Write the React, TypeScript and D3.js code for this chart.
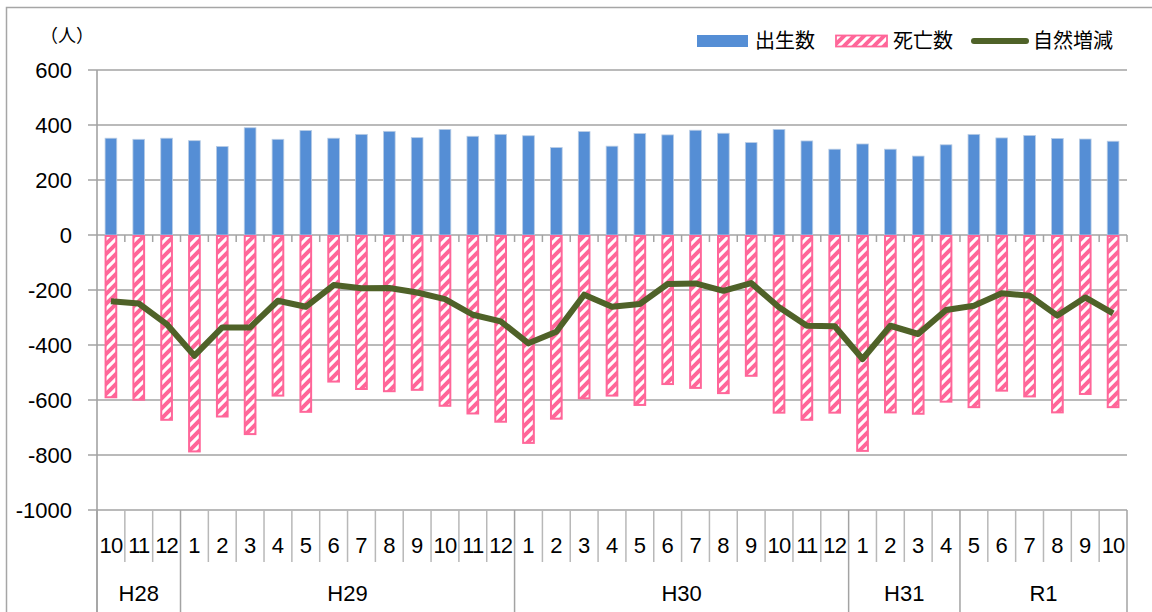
import React from "react";
import * as d3 from "d3";

// month labels, H28/10 .. R1/10
const months = [
  "10", "11", "12",
  "1", "2", "3", "4", "5", "6", "7", "8", "9", "10", "11", "12",
  "1", "2", "3", "4", "5", "6", "7", "8", "9", "10", "11", "12",
  "1", "2", "3", "4",
  "5", "6", "7", "8", "9", "10",
];
const eraLabels = ["H28", "H29", "H30", "H31", "R1"];
const eraSpans = [3, 12, 12, 4, 6];

const births = [
  352, 348, 352, 343, 322, 390, 348, 380, 352, 366, 377, 354, 384, 359, 366,
  361, 318, 376, 323, 369, 364, 381, 370, 336, 384, 342, 312, 331, 312, 287,
  328, 366, 353, 362, 351, 349, 341,
];
const deaths = [
  -590, -599, -672, -787, -660, -724, -584, -643, -533, -560, -568, -563, -621,
  -649, -679, -756, -668, -594, -584, -618, -542, -556, -575, -512, -646, -672,
  -646, -785, -645, -650, -606, -626, -566, -587, -645, -578, -626,
];
const natural = [
  -241, -249, -324, -439, -336, -336, -239, -261, -182, -194, -193, -209, -233,
  -290, -314, -394, -352, -217, -261, -251, -178, -176, -203, -175, -263, -330,
  -332, -451, -330, -360, -273, -257, -212, -221, -293, -227, -285,
];
const yTicks = [600, 400, 200, 0, -200, -400, -600, -800, -1000];

const W = 1152;
const H = 612;
const left = 97;
const right = 1127;
const top = 70;
const bottom = 510;

const numFont = "'Liberation Sans', Arial, sans-serif";
const jpFont = "'Noto Sans CJK JP', sans-serif";
const grid = "#a3a3a3";
const blue = "#558ed5";
const pink = "#ff6699";
const olive = "#4f6228";

export default function App() {
  const x = d3
    .scaleBand<number>()
    .domain(d3.range(months.length))
    .range([left, right])
    .padding(0);
  const y = d3.scaleLinear().domain([-1000, 600]).range([bottom, top]);
  const bw = x.bandwidth() * 0.42;
  const cx = (i: number) => (x(i) as number) + x.bandwidth() / 2;

  const line = d3
    .line<number>()
    .x((_, i) => cx(i))
    .y((d) => y(d));

  // era boundaries as category indices
  const eraStarts: number[] = [];
  let acc = 0;
  eraSpans.forEach((s) => {
    eraStarts.push(acc);
    acc += s;
  });
  const boundary = (i: number) => (i < months.length ? (x(i) as number) : right);

  return (
    <svg
      width={W}
      height={H}
      style={{ position: "absolute", left: 0, top: 0, background: "#fff" }}
    >
      <defs>
        <pattern id="stripe" patternUnits="userSpaceOnUse" width={10} height={10}>
          <rect width={10} height={10} fill="#fff" />
          <path
            d="M-3,3 L3,-3 M0,10 L10,0 M7,13 L13,7"
            stroke={pink}
            strokeWidth={4}
          />
        </pattern>
      </defs>
      <rect x={6.5} y={7.5} width={1200} height={700} fill="#fff" stroke="#a6a6a6" strokeWidth={1.5} />

      {/* gridlines + y labels */}
      {yTicks.map((t) => (
        <g key={t}>
          <line x1={left - 9} x2={right} y1={y(t)} y2={y(t)} stroke={grid} strokeWidth={1.6} />
          <text
            x={72}
            y={y(t)}
            dy="0.36em"
            textAnchor="end"
            fontFamily={numFont}
            fontSize={22}
            fill="#000"
          >
            {t}
          </text>
        </g>
      ))}

      {/* y axis line */}
      <line x1={left} x2={left} y1={top} y2={H} stroke={grid} strokeWidth={1.6} />

      {/* ticks on the zero axis */}
      {d3.range(1, months.length + 1).map((i) => (
        <line
          key={"zt" + i}
          x1={boundary(i)}
          x2={boundary(i)}
          y1={y(0)}
          y2={y(0) + 7}
          stroke={grid}
          strokeWidth={1.5}
        />
      ))}

      {/* births */}
      {births.map((v, i) => (
        <rect
          key={"b" + i}
          x={cx(i) - bw / 2}
          y={y(v)}
          width={bw}
          height={y(0) - y(v)}
          fill={blue}
          stroke="#b9cde5"
          strokeWidth={0.8}
        />
      ))}

      {/* deaths */}
      {deaths.map((v, i) => (
        <rect
          key={"d" + i}
          x={cx(i) - bw / 2 + 0.5}
          y={y(0) + 1}
          width={bw - 1}
          height={y(v) - y(0) - 1}
          fill="url(#stripe)"
          stroke={pink}
          strokeWidth={2}
        />
      ))}

      {/* natural change */}
      <path
        d={line(natural) || ""}
        fill="none"
        stroke={olive}
        strokeWidth={6}
        strokeLinejoin="round"
      />

      {/* month separators */}
      {d3.range(0, months.length + 1).map((i) => {
        const isEra = eraStarts.includes(i) || i === months.length;
        return (
          <line
            key={"ms" + i}
            x1={boundary(i)}
            x2={boundary(i)}
            y1={bottom}
            y2={isEra ? H : 562}
            stroke={isEra ? grid : "#b8b8b8"}
            strokeWidth={1.5}
          />
        );
      })}

      {/* month labels */}
      {months.map((m, i) => (
        <text
          key={"m" + i}
          x={cx(i)}
          y={553}
          textAnchor="middle"
          fontFamily={numFont}
          fontSize={22}
          letterSpacing={m.length > 1 ? -0.8 : 0}
          fill="#000"
        >
          {m}
        </text>
      ))}

      {/* era labels */}
      {eraLabels.map((e, k) => {
        const a = boundary(eraStarts[k]);
        const b = boundary(eraStarts[k] + eraSpans[k]);
        return (
          <text
            key={e}
            x={(a + b) / 2}
            y={601}
            textAnchor="middle"
            fontFamily={numFont}
            fontSize={22}
            fill="#000"
          >
            {e}
          </text>
        );
      })}

      {/* unit */}
      <text x={67} y={42} textAnchor="middle" fontFamily={jpFont} fontSize={18} fill="#000">
        （人）
      </text>

      {/* legend */}
      <g fontFamily={jpFont} fontSize={20} fill="#000">
        <rect x={697} y={35} width={51} height={12} fill={blue} />
        <text x={755} y={48}>出生数</text>
        <rect x={836} y={35.5} width={51} height={11} fill="url(#stripe)" stroke={pink} strokeWidth={1.8} />
        <text x={893} y={48}>死亡数</text>
        <line x1={974} x2={1026} y1={41} y2={41} stroke={olive} strokeWidth={6} strokeLinecap="round" />
        <text x={1033} y={48}>自然増減</text>
      </g>
    </svg>
  );
}
